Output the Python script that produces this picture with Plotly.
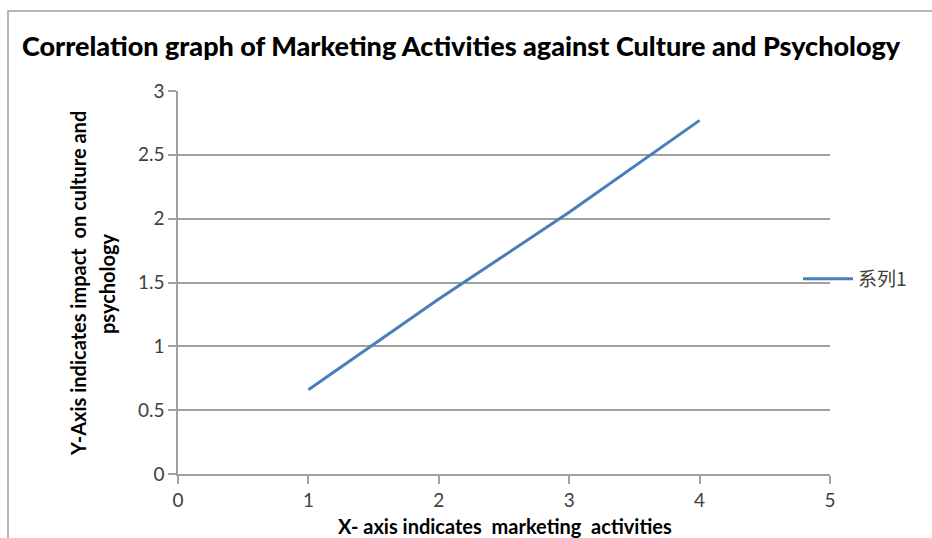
import plotly.graph_objects as go

# Data
x_values = [1, 2, 3, 4]
y_values = [0.66, 1.37, 2.05, 2.77]
series_name = "系列1"
title_text = "Correlation graph of Marketing Activities against Culture and Psychology"
x_title = "X- axis indicates  marketing  activities"
y_title_lines = ["Y-Axis indicates impact  on culture and", "psychology"]

W, H = 932, 538
L, R, T, B = 178, 102, 91, 64
pw, ph = W - L - R, H - T - B

def px_x(p):
    return (p - L) / pw

def px_y(p):
    return (H - B - p) / ph

fig = go.Figure()
fig.add_trace(go.Scatter(
    x=x_values, y=y_values, mode="lines", name=series_name,
    line=dict(color="#4a7ebb", width=3),
))

tick_font = dict(family="Lato, Open Sans, sans-serif", size=19, color="#404040")
axis_col = "#a0a0a0"

fig.update_layout(
    width=W, height=H,
    margin=dict(l=L, r=R, t=T, b=B, autoexpand=False),
    paper_bgcolor="white", plot_bgcolor="white",
    title=dict(
        text=title_text,
        font=dict(family="Lato, sans-serif", size=27, color="black", weight=900),
        x=461 / W, xanchor="center",
        y=1 - 47 / H, yanchor="middle", xref="container", yref="container",
    ),
    xaxis=dict(
        range=[0, 5], dtick=1, showgrid=False, zeroline=False,
        showline=True, linecolor=axis_col, linewidth=1.5,
        ticks="outside", ticklen=8, tickcolor=axis_col, tickwidth=1.5,
        tickfont=tick_font, fixedrange=True,
    ),
    yaxis=dict(
        range=[0, 3], dtick=0.5, showgrid=True, gridcolor=axis_col, gridwidth=1.5,
        zeroline=False, showline=True, linecolor=axis_col, linewidth=1.5,
        ticks="outside", ticklen=8, tickcolor=axis_col, tickwidth=1.5,
        tickfont=tick_font, fixedrange=True,
    ),
    showlegend=True,
    legend=dict(
        x=px_x(798), y=px_y(279), xanchor="left", yanchor="middle",
        font=dict(family="Noto Sans CJK SC, sans-serif", size=19, color="#404040"),
        bgcolor="rgba(0,0,0,0)", itemwidth=50,
    ),
)

title_font = dict(family="Lato, Open Sans, sans-serif", size=20, color="black")
fig.add_annotation(text="<b>" + x_title + "</b>", xref="paper", yref="paper",
                   x=px_x(505), y=px_y(526), showarrow=False, font=title_font,
                   xanchor="center", yanchor="middle")
fig.add_annotation(text="<b>" + y_title_lines[0] + "</b>", xref="paper", yref="paper",
                   x=px_x(78), y=px_y(284), showarrow=False, font=title_font,
                   textangle=-90, xanchor="center", yanchor="middle")
fig.add_annotation(text="<b>" + y_title_lines[1] + "</b>", xref="paper", yref="paper",
                   x=px_x(107), y=px_y(284), showarrow=False, font=title_font,
                   textangle=-90, xanchor="center", yanchor="middle")

# outer frame
fig.add_shape(type="rect", xref="paper", yref="paper",
              x0=px_x(8), x1=px_x(W + 20), y0=px_y(H + 20), y1=px_y(11),
              line=dict(color="#a0a0a0", width=1.5), layer="below")

fig.write_html("out.html", config={"displayModeBar": False},
               post_script="document.body.style.margin='0';document.body.style.overflow='hidden';")
